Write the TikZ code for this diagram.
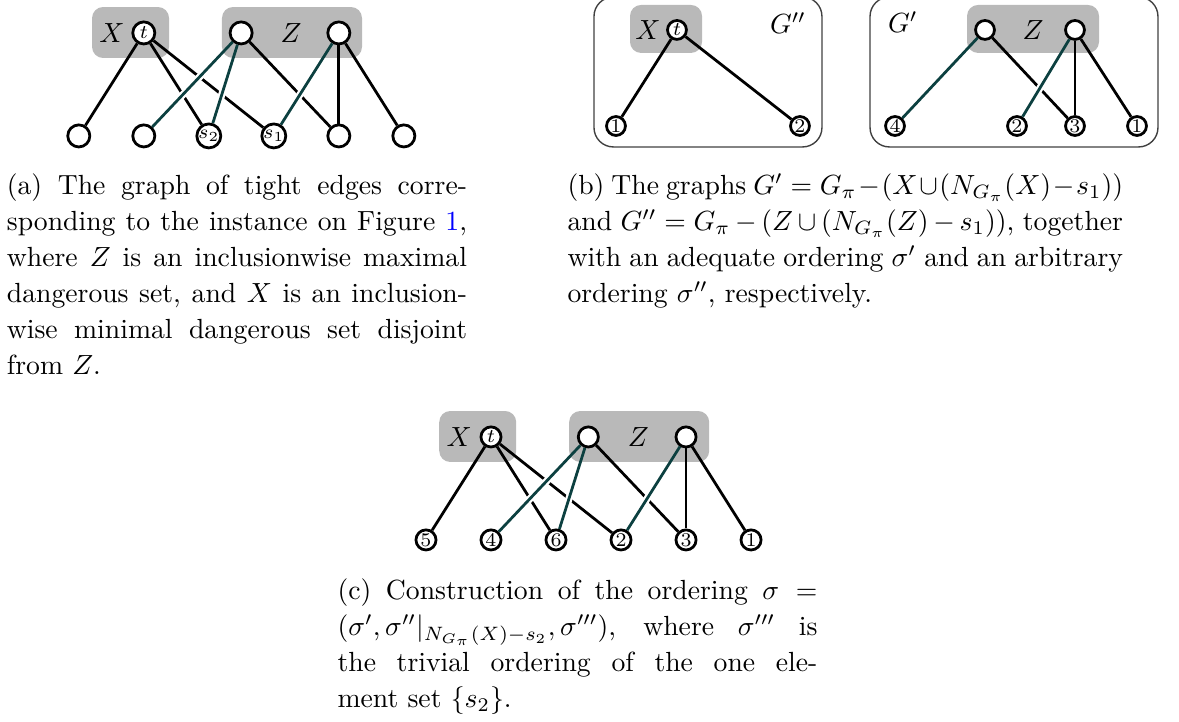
\documentclass[tikz,border=0pt]{standalone}
\usepackage{amsmath,amssymb}
\definecolor{tightteal}{RGB}{12,64,64}
\definecolor{setgray}{RGB}{185,185,185}
\definecolor{reflink}{RGB}{0,0,255}
\begin{document}
\begin{tikzpicture}[
  every node/.style={font=\fontsize{10}{13}\selectfont},
  vtx/.style={circle,draw,line width=1pt,fill=white,inner sep=0pt,minimum size=0.28cm,font=\scriptsize},
  cvtx/.style={vtx,minimum size=0.255cm},
  svtx/.style={vtx,minimum size=0.24cm},
  setbox/.style={fill=setgray,rounded corners=4pt},
  frm/.style={draw=black!75,line width=0.5pt,rounded corners=7pt},
  blk/.style={line width=1pt,black},
  tl/.style={line width=1pt,tightteal,preaction={draw=white,line width=2.6pt,shorten <=0.3cm,shorten >=0.3cm}},
  capt/.style={anchor=north west,inner sep=0pt,align=justify},
]
  \useasboundingbox (0,0) rectangle (14.962,9.162);

  % (a) tight edges
  \fill[setbox] (1.168,8.426) rectangle (2.145,9.073);
  \fill[setbox] (2.817,8.426) rectangle (4.594,9.073);
  \node (XA) at (1.421,8.744) {$X$};
  \node (ZA) at (3.693,8.744) {$Z$};
  \node[vtx] (tA)  at (1.825,8.744) {$t$};
  \node[vtx] (zA1) at (3.06, 8.744) {};
  \node[vtx] (zA2) at (4.3,  8.744) {};
  \node[vtx] (vA1) at (1.0,  7.437) {};
  \node[vtx] (vA2) at (1.825,7.437) {};
  \node[vtx] (sA2) at (2.65, 7.437) {$s_2$};
  \node[vtx] (sA1) at (3.475,7.437) {$s_1$};
  \node[vtx] (vA5) at (4.3,  7.437) {};
  \node[vtx] (vA6) at (5.125,7.437) {};
  \draw[blk] (tA) -- (vA1);
  \draw[blk] (tA) -- (sA2);
  \draw[blk] (tA) -- (sA1);
  \draw[blk] (zA1) -- (vA5);
  \draw[blk] (zA2) -- (vA5);
  \draw[blk] (zA2) -- (vA6);
  \draw[tl] (zA1) -- (vA2);
  \draw[tl] (zA1) -- (sA2);
  \draw[tl] (zA2) -- (sA1);
  \node[capt,text width=5.84cm] (capA) at (0.08,6.967)
    {(a) The graph of tight edges corre-\linebreak sponding to the instance on Figure~\textcolor{reflink}{1},\linebreak
     where $Z$ is an inclusionwise maximal\linebreak dangerous set, and $X$ is an inclusion-\linebreak
     wise minimal dangerous set disjoint\linebreak from $Z$.};

  % (b) G''
  \draw[frm] (7.538,7.297) rectangle (10.431,9.2);
  \fill[setbox] (7.995,8.490) rectangle (8.909,9.099);
  \node (XB) at (8.223,8.782) {$X$};
  \node (GBB) at (10.0,8.871) {$G''$};
  \node[svtx] (tB)  at (8.591,8.782) {$t$};
  \node[svtx] (oB1) at (7.817,7.563) {1};
  \node[svtx] (oB2) at (10.152,7.563) {2};
  \draw[blk] (tB) -- (oB1);
  \draw[blk] (tB) -- (oB2);

  % (b) G'
  \draw[frm] (11.041,7.297) rectangle (14.695,9.2);
  \fill[setbox] (12.272,8.490) rectangle (13.947,9.099);
  \node (GB) at (11.459,8.883) {$G'$};
  \node (ZB) at (13.109,8.782) {$Z$};
  \node[svtx] (zB1) at (12.5, 8.782) {};
  \node[svtx] (zB2) at (13.642,8.782) {};
  \node[svtx] (pB4) at (11.358,7.563) {4};
  \node[svtx] (pB2) at (12.906,7.563) {2};
  \node[svtx] (pB3) at (13.642,7.563) {3};
  \node[svtx] (pB1) at (14.429,7.563) {1};
  \draw[blk] (zB1) -- (pB3);
  \draw[blk] (zB2) -- (pB3);
  \draw[blk] (zB2) -- (pB1);
  \draw[tl] (zB1) -- (pB4);
  \draw[tl] (zB2) -- (pB2);
  \node[capt,text width=7.05cm] (capB) at (7.195,6.967)
    {\relpenalty=10000\binoppenalty=10000\hyphenpenalty=10000
     (b) The graphs $G' = G_\pi - (X \cup (N_{G_\pi}(X) - s_1))$\linebreak
     and $G'' = G_\pi - (Z \cup (N_{G_\pi}(Z) - s_1))$, together\linebreak
     with an adequate ordering $\sigma'$ and an arbitrary\linebreak ordering $\sigma''$, respectively.};

  % (c) ordering sigma
  \fill[setbox] (5.574,3.299) rectangle (6.551,3.946);
  \fill[setbox] (7.223,3.299) rectangle (9.0,3.946);
  \node (XC) at (5.827,3.617) {$X$};
  \node (ZC) at (8.099,3.617) {$Z$};
  \node[cvtx] (tC)  at (6.231,3.617) {$t$};
  \node[cvtx] (zC1) at (7.466,3.617) {};
  \node[cvtx] (zC2) at (8.706,3.617) {};
  \node[cvtx] (oC5) at (5.406,2.310) {5};
  \node[cvtx] (oC4) at (6.231,2.310) {4};
  \node[cvtx] (oC6) at (7.056,2.310) {6};
  \node[cvtx] (oC2) at (7.881,2.310) {2};
  \node[cvtx] (oC3) at (8.706,2.310) {3};
  \node[cvtx] (oC1) at (9.531,2.310) {1};
  \draw[blk] (tC) -- (oC5);
  \draw[blk] (tC) -- (oC6);
  \draw[blk] (tC) -- (oC2);
  \draw[blk] (zC1) -- (oC3);
  \draw[blk] (zC2) -- (oC3);
  \draw[blk] (zC2) -- (oC1);
  \draw[tl] (zC1) -- (oC4);
  \draw[tl] (zC1) -- (oC6);
  \draw[tl] (zC2) -- (oC2);
  \node[capt,text width=6.09cm] (capC) at (4.277,1.827)
    {(c) Construction of the ordering $\sigma =$\linebreak
     $(\sigma', \sigma''|_{N_{G_\pi}(X)-s_2}, \sigma''')$, where $\sigma'''$ is\linebreak
     the trivial ordering of the one ele-\linebreak ment set $\{s_2\}$.};
\end{tikzpicture}
\end{document}
